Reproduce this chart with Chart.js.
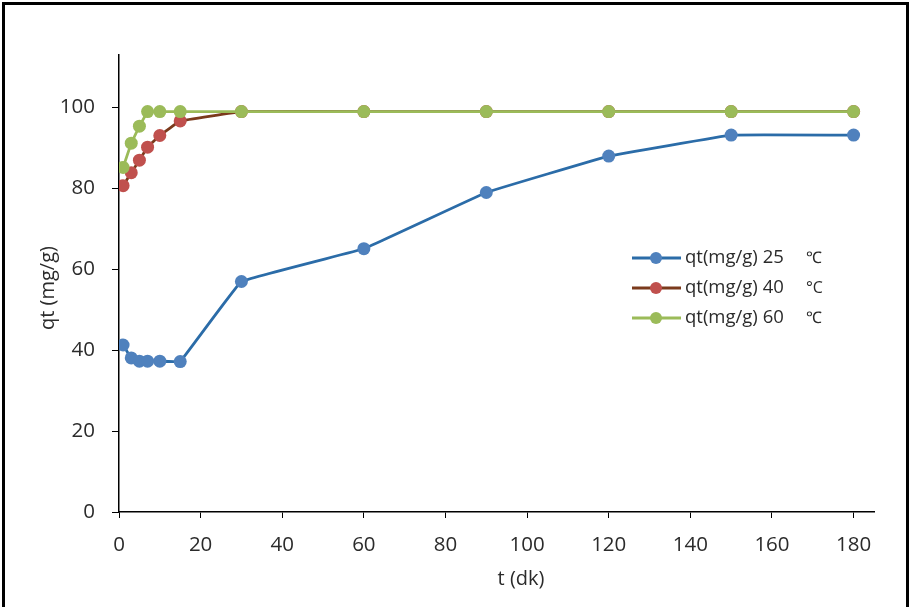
<!DOCTYPE html>
<html>
<head>
<meta charset="utf-8">
<script src="https://cdn.jsdelivr.net/npm/chart.js@4/dist/chart.umd.min.js"></script>
<style>
  body { margin: 0; background: #fff; }
  canvas { display: block; }
</style>
</head>
<body>
<canvas id="kinChart" width="913" height="607"></canvas>
<script>
// time (dk) and qt (mg/g)
const times = [1, 3, 5, 7, 10, 15, 30, 60, 90, 120, 150, 180];
const qt25 = [41.3, 38.1, 37.3, 37.3, 37.3, 37.2, 57.0, 65.1, 79.0, 88.0, 93.2, 93.2];
const qt40 = [80.7, 83.9, 87.0, 90.2, 93.1, 96.7, 99.0, 99.0, 99.0, 99.0, 99.0, 99.0];
const qt60 = [85.2, 91.2, 95.4, 99.0, 99.0, 99.0, 99.0, 99.0, 99.0, 99.0, 99.0, 99.0];
const seriesNames = ["qt(mg/g) 25", "qt(mg/g) 40", "qt(mg/g) 60"];
const seriesUnits = ["\u2103", "\u00B0C", "\u2103"];
const xTicks = [0, 20, 40, 60, 80, 100, 120, 140, 160, 180];
const yTicks = [0, 20, 40, 60, 80, 100];

const FONT = "'Open Sans', 'Liberation Sans', sans-serif";
const TXT = "#2b2b2b";

const toPts = (ys) => ys.map((y, i) => ({ x: times[i], y }));

// legend, axis titles and the frame are drawn by hand
const extras = {
  id: "extras",
  afterDraw(chart) {
    const c = chart.ctx;
    c.save();
    // frame
    c.strokeStyle = "#000";
    c.lineWidth = 3;
    c.beginPath();
    c.moveTo(3.5, 640);
    c.lineTo(3.5, 3.5);
    c.lineTo(907.5, 3.5);
    c.lineTo(907.5, 640);
    c.stroke();

    // axis titles
    c.fillStyle = TXT;
    c.font = "20px " + FONT;
    c.textAlign = "center";
    c.textBaseline = "middle";
    c.fillText("t (dk)", 521, 579);
    c.save();
    c.translate(48, 288);
    c.rotate(-Math.PI / 2);
    c.fillText("qt (mg/g)", 0, 0);
    c.restore();

    // legend
    chart.data.datasets.forEach((ds, i) => {
      const y = 258 + i * 30;
      c.strokeStyle = ds.borderColor;
      c.lineWidth = 3;
      c.beginPath();
      c.moveTo(632, y);
      c.lineTo(681, y);
      c.stroke();
      c.fillStyle = ds.pointBackgroundColor;
      c.beginPath();
      c.arc(656, y, 6, 0, Math.PI * 2);
      c.fill();
      c.fillStyle = TXT;
      c.font = "18.5px " + FONT;
      c.textAlign = "left";
      c.fillText(seriesNames[i], 685, y);
      c.font = "16px " + FONT;
      c.fillText(seriesUnits[i], 806, y);
    });
    c.restore();
  },
};

function makeSet(data, line, dot, order, tension) {
  return {
    data: toPts(data),
    borderColor: line,
    backgroundColor: dot,
    pointBackgroundColor: dot,
    pointBorderColor: dot,
    pointRadius: 6.5,
    pointBorderWidth: 0,
    borderWidth: 2.8,
    tension,
    order,
  };
}

new Chart(document.getElementById("kinChart"), {
  type: "line",
  data: {
    datasets: [
      makeSet(qt25, "#2b6ca8", "#4f81bd", 3, 0.05),
      makeSet(qt40, "#7b3a1c", "#c0504d", 2, 0.05),
      makeSet(qt60, "#9bbb59", "#9bbb59", 1, 0),
    ],
  },
  options: {
    responsive: false,
    animation: false,
    layout: { padding: { left: 0, top: 55, right: 39, bottom: 0 } },
    plugins: { legend: { display: false }, tooltip: { enabled: false } },
    scales: {
      x: {
        type: "linear",
        min: 0,
        max: 185,
        afterBuildTicks: (s) => { s.ticks = xTicks.map((v) => ({ value: v })); },
        afterFit: (s) => { s.height = 95; },
        grid: { drawOnChartArea: false, tickLength: 6, color: "#000" },
        border: { color: "#000", width: 1.5 },
        ticks: { color: TXT, font: { family: FONT, size: 20.5 }, padding: 15, maxRotation: 0 },
      },
      y: {
        min: 0,
        max: 113,
        afterBuildTicks: (s) => { s.ticks = yTicks.map((v) => ({ value: v })); },
        afterFit: (s) => { s.width = 119; },
        grid: { drawOnChartArea: false, tickLength: 7, color: "#000" },
        border: { color: "#000", width: 1.5 },
        ticks: { color: TXT, font: { family: FONT, size: 20.5 }, padding: 17 },
      },
    },
  },
  plugins: [extras],
});
</script>
</body>
</html>
